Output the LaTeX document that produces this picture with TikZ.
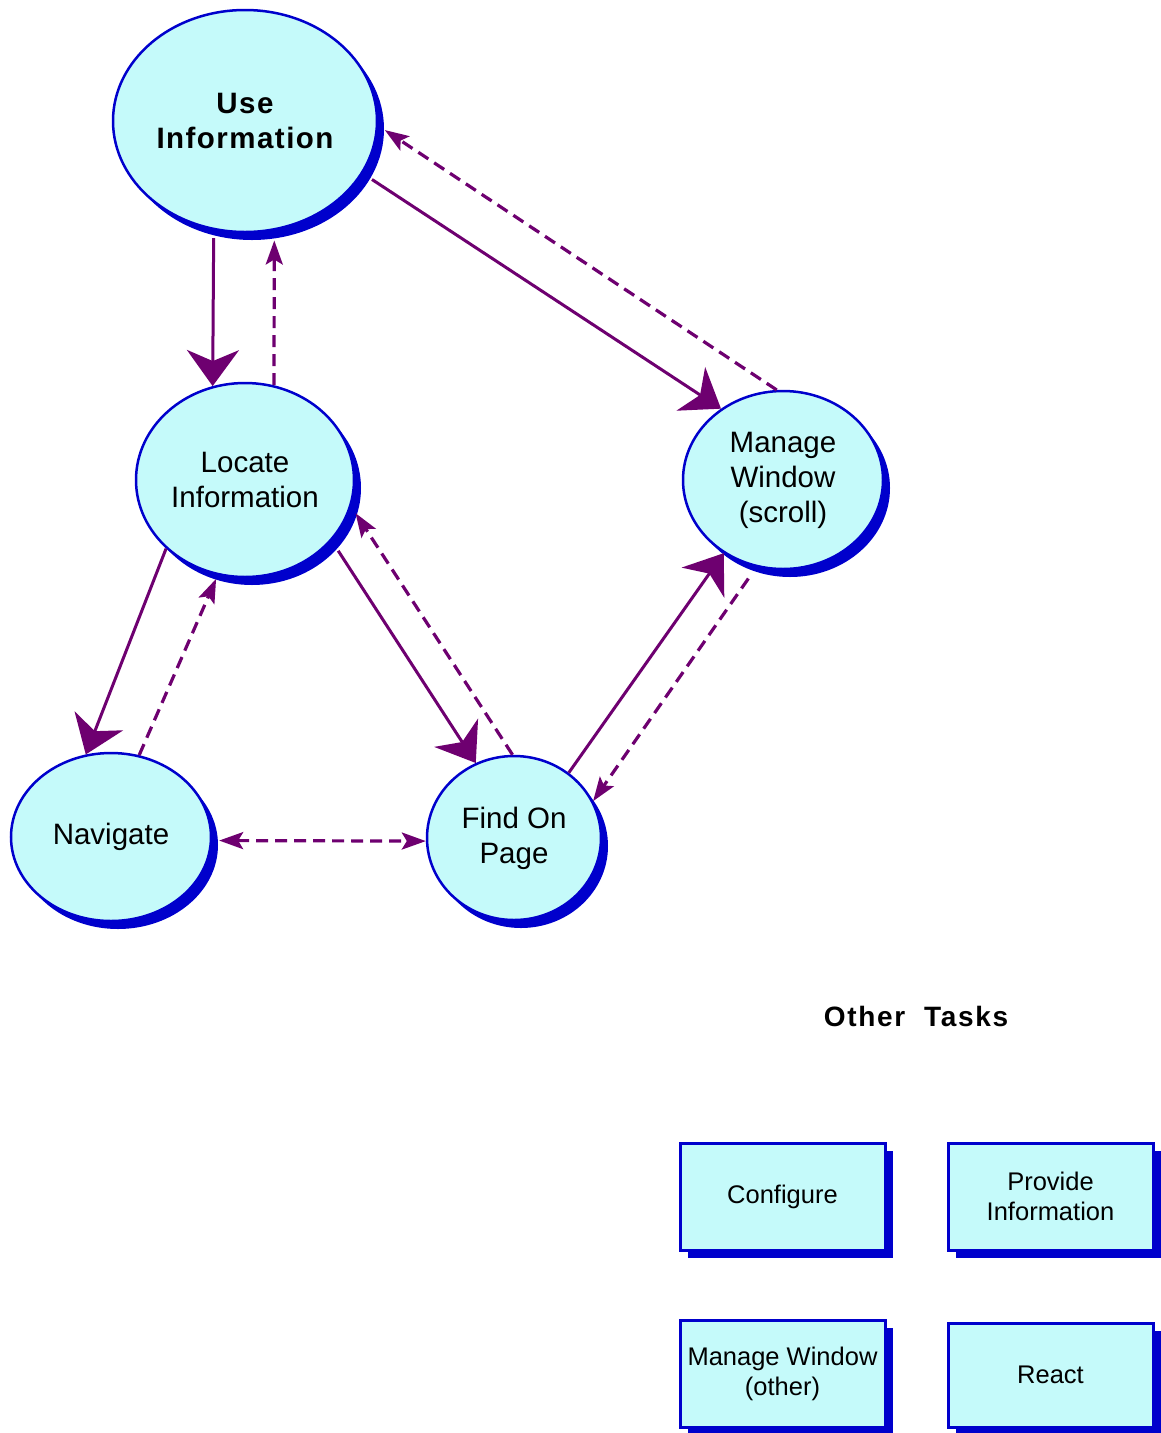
\documentclass[tikz,border=0pt]{standalone}
\usepackage{fontspec}
\setmainfont{Liberation Sans}
\usetikzlibrary{shapes.geometric,arrows.meta,shadows}
\definecolor{cfill}{HTML}{C5FAFA}
\definecolor{cblue}{HTML}{0000CC}
\definecolor{cpurple}{HTML}{6E0070}
\begin{document}
\begin{tikzpicture}[x=1pt,y=-1pt,
  task/.style={ellipse, draw=cblue, line width=2.5pt, fill=cfill, inner sep=0pt, align=center,
    drop shadow={shadow xshift=7pt, shadow yshift=-8pt, fill=cblue, opacity=1},
    font=\fontsize{29.5}{35}\selectfont},
  otherbox/.style={rectangle, draw=cblue, line width=3pt, fill=cfill, inner sep=0pt, align=center,
    minimum width=205pt, minimum height=107pt,
    drop shadow={shadow xshift=8pt, shadow yshift=-8pt, fill=cblue, opacity=1},
    font=\fontsize{25.5}{30}\selectfont},
  bigtip/.tip={Stealth[length=36pt,width=52pt,inset=11pt]},
  smalltip/.tip={Stealth[length=24pt,width=17pt,inset=5pt]},
  flow/.style={draw=cpurple, line width=3pt, -bigtip},
  back/.style={draw=cpurple, line width=3.2pt, dash pattern=on 12pt off 7pt, -smalltip},
]
\useasboundingbox (0,0) rectangle (1161,1433);

\node[task, minimum width=264pt, minimum height=222pt,
  font=\fontsize{29.5}{35}\selectfont\bfseries\addfontfeature{LetterSpace=5}]
  (use) at (245,121) {Use\\Information};
\node[task, minimum width=218pt, minimum height=194pt] (loc) at (245,480) {Locate\\Information};
\node[task, minimum width=200pt, minimum height=178pt] (man) at (783,480) {Manage\\Window\\(scroll)};
\node[task, minimum width=200pt, minimum height=168pt] (nav) at (111,837) {Navigate};
\node[task, minimum width=174pt, minimum height=164pt] (find) at (514,838) {Find On\\Page};

\draw[flow, shorten <=8pt] (use.254) -- (loc.109);
\draw[back, shorten >=10pt] (loc.73) -- (use.285);
\draw[flow, shorten <=11pt] (use.336) -- (man.131);
\draw[back, shorten >=8pt] (man.94) -- (use.358);
\draw[flow] (loc.221) -- (nav.107);
\draw[back, shorten >=4pt] (nav.71) -- (loc.254);
\draw[flow, shorten <=12pt] (loc.325) -- (find.117);
\draw[back, shorten >=8pt] (find.91) -- (loc.346);
\draw[flow] (find.50) -- (man.231);
\draw[back, shorten <=14pt] (man.253) -- (find.25);
\draw[back, smalltip-smalltip, shorten <=7pt] (nav.-2) -- (find.182);

\node[font=\fontsize{28}{34}\selectfont\bfseries\addfontfeature{LetterSpace=6}] (other) at (916,1016) {Other\ \ Tasks};

\node[otherbox] (conf) at (782.5,1196.5) {Configure};
\node[otherbox] (prov) at (1050.5,1196.5) {Provide\\Information};
\node[otherbox] (mwo) at (782.5,1373.5) {Manage Window\\(other)};
\node[otherbox, minimum height=104pt] (react) at (1050.5,1375) {React};
\end{tikzpicture}
\end{document}
